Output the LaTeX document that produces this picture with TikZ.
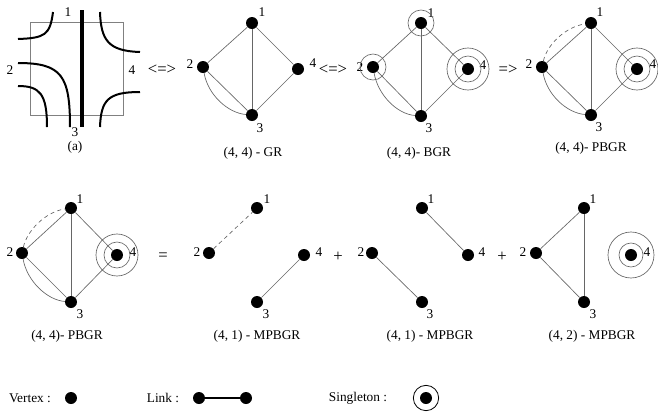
\documentclass[tikz,border=0pt]{standalone}
\usepackage{fontspec}
\setmainfont{Liberation Serif}
\begin{document}
\begin{tikzpicture}[x=0.75pt,y=-0.75pt, font=\fontsize{10}{12}\selectfont,
  dot/.style={circle,fill=black,inner sep=0pt,minimum size=9pt},
  edge/.style={draw=black!60,line width=0.5pt},
  dedge/.style={edge,dash pattern=on 3pt off 2.5pt},
  ring/.style={circle,draw=black!60,line width=0.5pt,inner sep=0pt},
  lbl/.style={inner sep=0pt},
  sym/.style={inner sep=0pt,font=\fontsize{12.5}{14}\selectfont},
  wire/.style={line width=1.5pt,line cap=butt}]
\useasboundingbox (0,0) rectangle (658,415);

% ---------- panel (a) ----------
\draw[black!50,line width=0.5pt] (30,22) rectangle (123,115);
\draw[line width=2.3pt] (82,10) -- (82,127);
\draw[wire] (53,12) .. controls (50,35) and (45,38) .. (18,39);
\draw[wire] (18,63) .. controls (62,63) and (70,76) .. (70,127);
\draw[wire] (18,86) .. controls (40,86) and (47,94) .. (47,127);
\draw[wire] (100,12) .. controls (101,40) and (108,51) .. (140,52);
\draw[wire] (140,92) .. controls (108,92) and (101,100) .. (100,127);
\node[lbl] (a1) at (68,12) {1};
\node[lbl] (a2) at (10,70) {2};
\node[lbl] (a4) at (132,70) {4};
\node[lbl] (a3) at (75,132) {3};
\node[lbl] (acap) at (75,147) {(a)};
\node[sym] (eq1) at (162,70) {<=>};

% ---------- GR ----------
\begin{scope}[shift={(252,23)}]
\node[dot] (g1) at (0,0) {};
\node[dot] (g2) at (-49,44) {};
\node[dot] (g4) at (46,46) {};
\node[dot] (g3) at (0,92) {};
\node[lbl] (gl1) at (10,-11) {1};
\node[lbl] (gl2) at (-62,41) {2};
\node[lbl] (gl4) at (61,40) {4};
\node[lbl] (gl3) at (8,105) {3};
\end{scope}
\draw[edge] (g1) -- (g2);
\draw[edge] (g1) -- (g3);
\draw[edge] (g1) -- (g4);
\draw[edge] (g2) -- (g3);
\draw[edge] (g4) -- (g3);
\draw[edge] (g2) .. controls +(5,28) and +(-24,-2) .. (g3);
\node[lbl] (gcap) at (253,153) {(4, 4) - GR};
\node[sym] (eq2) at (333,70) {<=>};

% ---------- BGR ----------
\begin{scope}[shift={(421,23)}]
\node[dot] (b1) at (0,0) {};
\node[dot] (b2) at (-48,44) {};
\node[dot] (b4) at (47,46) {};
\node[dot] (b3) at (0,93) {};
\node[lbl] (bl1) at (10,-10) {1};
\node[lbl] (bl2) at (-61,44) {2};
\node[lbl] (bl4) at (62,42) {4};
\node[lbl] (bl3) at (8,105) {3};
\end{scope}
\node[ring,minimum size=19.5pt] (b1r) at (b1) {};
\node[ring,minimum size=19.5pt] (b2r) at (b2) {};
\node[ring,minimum size=19.5pt] (b4r) at (b4) {};
\node[ring,minimum size=31.5pt] (b4R) at (b4) {};
\draw[edge] (b1) -- (b2);
\draw[edge] (b1) -- (b3);
\draw[edge] (b1) -- (b4);
\draw[edge] (b2) -- (b3);
\draw[edge] (b4) -- (b3);
\draw[edge] (b2) .. controls +(5,28) and +(-24,-2) .. (b3);
\node[lbl] (bcap) at (419,153) {(4, 4)- BGR};
\node[sym] (eq3) at (508,70) {=>};

% ---------- PBGR top ----------
\begin{scope}[shift={(591,23)}]
\node[dot] (p1) at (0,0) {};
\node[dot] (p2) at (-49,44) {};
\node[dot] (p4) at (46,46) {};
\node[dot] (p3) at (0,92) {};
\node[lbl] (pl1) at (9,-11) {1};
\node[lbl] (pl2) at (-62,41) {2};
\node[lbl] (pl4) at (62,41) {4};
\node[lbl] (pl3) at (8,104) {3};
\end{scope}
\node[ring,minimum size=19.5pt] (p4r) at (p4) {};
\node[ring,minimum size=31.5pt] (p4R) at (p4) {};
\draw[edge] (p1) -- (p2);
\draw[edge] (p1) -- (p3);
\draw[edge] (p1) -- (p4);
\draw[edge] (p2) -- (p3);
\draw[edge] (p4) -- (p3);
\draw[edge] (p2) .. controls +(5,28) and +(-24,-2) .. (p3);
\draw[dedge] (p2) .. controls +(5,-22) and +(-26,4) .. (p1);
\node[lbl] (pcap) at (591,148) {(4, 4)- PBGR};

% ---------- PBGR bottom ----------
\begin{scope}[shift={(71,208)}]
\node[dot] (q1) at (0,0) {};
\node[dot] (q2) at (-49,45) {};
\node[dot] (q4) at (46,47) {};
\node[dot] (q3) at (0,94) {};
\node[lbl] (ql1) at (9,-9) {1};
\node[lbl] (ql2) at (-61,44) {2};
\node[lbl] (ql4) at (62,44) {4};
\node[lbl] (ql3) at (9,106) {3};
\end{scope}
\node[ring,minimum size=19.5pt] (q4r) at (q4) {};
\node[ring,minimum size=31.5pt] (q4R) at (q4) {};
\draw[edge] (q1) -- (q2);
\draw[edge] (q1) -- (q3);
\draw[edge] (q1) -- (q4);
\draw[edge] (q2) -- (q3);
\draw[edge] (q4) -- (q3);
\draw[edge] (q2) .. controls +(5,28) and +(-24,-2) .. (q3);
\draw[dedge] (q2) .. controls +(5,-22) and +(-26,4) .. (q1);
\node[lbl] (qcap) at (67,336) {(4, 4)- PBGR};
\node[sym] (eq4) at (163,257) {=};

% ---------- (4,1) MPBGR first ----------
\begin{scope}[shift={(257,208)}]
\node[dot] (m1) at (0,0) {};
\node[dot] (m2) at (-48,45) {};
\node[dot] (m4) at (47,47) {};
\node[dot] (m3) at (0,94) {};
\node[lbl] (ml1) at (10,-9) {1};
\node[lbl] (ml2) at (-60,44) {2};
\node[lbl] (ml4) at (62,44) {4};
\node[lbl] (ml3) at (9,106) {3};
\end{scope}
\draw[dedge] (m2) -- (m1);
\draw[edge] (m4) -- (m3);
\node[lbl] (mcap) at (257,336) {(4, 1) - MPBGR};
\node[sym] (pl5) at (338,257) {+};

% ---------- (4,1) MPBGR second ----------
\begin{scope}[shift={(422,208)}]
\node[dot] (n1) at (0,0) {};
\node[dot] (n2) at (-50,45) {};
\node[dot] (n4) at (46,47) {};
\node[dot] (n3) at (0,94) {};
\node[lbl] (nl1) at (9,-9) {1};
\node[lbl] (nl2) at (-61,44) {2};
\node[lbl] (nl4) at (60,44) {4};
\node[lbl] (nl3) at (8,106) {3};
\end{scope}
\draw[edge] (n1) -- (n4);
\draw[edge] (n2) -- (n3);
\node[lbl] (ncap) at (430,336) {(4, 1) - MPBGR};
\node[sym] (pl6) at (502,257) {+};

% ---------- (4,2) MPBGR ----------
\begin{scope}[shift={(584,208)}]
\node[dot] (k1) at (0,0) {};
\node[dot] (k2) at (-48,45) {};
\node[dot] (k4) at (47,47) {};
\node[dot] (k3) at (0,94) {};
\node[lbl] (kl1) at (9,-9) {1};
\node[lbl] (kl2) at (-61,44) {2};
\node[lbl] (kl4) at (63,44) {4};
\node[lbl] (kl3) at (9,106) {3};
\end{scope}
\node[ring,minimum size=18pt] (k4r) at (k4) {};
\node[ring,minimum size=34.5pt] (k4R) at (k4) {};
\draw[edge] (k1) -- (k2);
\draw[edge] (k2) -- (k3);
\draw[edge] (k1) -- (k3);
\node[lbl] (kcap) at (592,336) {(4, 2) - MPBGR};

% ---------- legend ----------
\node[lbl] (vtx) at (30,398) {Vertex :};
\node[dot] (vd) at (71,398) {};
\node[lbl] (lnk) at (163,398) {Link :};
\node[dot] (ld1) at (199,398) {};
\node[dot] (ld2) at (246,398) {};
\draw[line width=0.8pt] (ld1) -- (ld2);
\node[lbl] (sgl) at (358,398) {Singleton :};
\node[dot] (sd) at (426,398) {};
\node[circle,draw=black,line width=0.6pt,inner sep=0pt,minimum size=19pt] (sr) at (sd) {};
\end{tikzpicture}
\end{document}
